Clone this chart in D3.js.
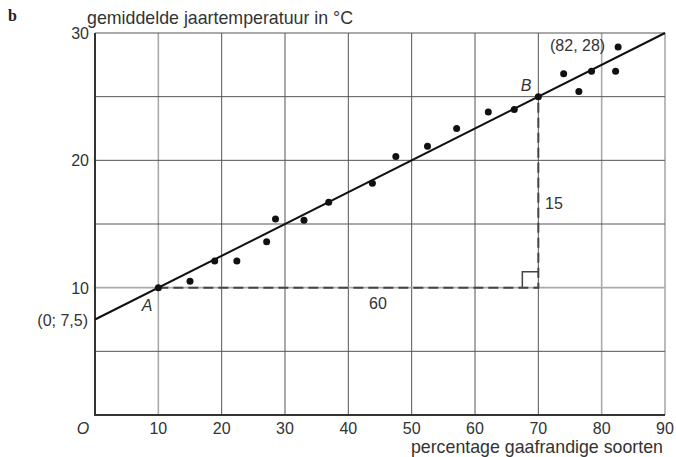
<!DOCTYPE html>
<html>
<head>
<meta charset="utf-8">
<script src="https://cdn.jsdelivr.net/npm/d3@7"></script>
<style>
  body { margin: 0; background: #fff; }
  text { font-family: "Liberation Sans", Arial, sans-serif; fill: #333; }
</style>
</head>
<body>
<script>
// data
var pctSmooth = [10, 15.0, 18.9, 22.4, 27.1, 28.5, 33.0, 36.9, 43.8, 47.5, 52.5, 57.1, 62.1, 66.2, 70, 74.0, 76.4, 78.4, 82.2, 82.6];
var meanTemp  = [10, 10.5, 12.1, 12.1, 13.6, 15.4, 15.3, 16.7, 18.2, 20.3, 21.1, 22.5, 23.8, 24.0, 25, 26.8, 25.4, 27.0, 27.0, 28.9];

var fitX = [0, 90];
var fitY = [7.5, 30];

// slope triangle A -> corner -> B
var triX = [10, 70, 70];
var triY = [10, 10, 25];

var xTicks = [10, 20, 30, 40, 50, 60, 70, 80, 90];
var yTicks = [10, 20, 30];
var yGrid = [5, 10, 15, 20, 25, 30];

var width = 676, height = 457;

var x = d3.scaleLinear().domain([0, 90]).range([95, 665]);
var y = d3.scaleLinear().domain([0, 30]).range([415, 33]);

var svg = d3.select("body").append("svg")
    .attr("width", width)
    .attr("height", height);

// grid
var light = function(v) { return v === 10 || v === 80 || v === 90; };

svg.append("g").selectAll("line")
    .data(xTicks)
    .enter().append("line")
    .attr("x1", d => x(d)).attr("x2", d => x(d))
    .attr("y1", y(0)).attr("y2", y(30))
    .attr("stroke", d => light(d) ? "#aaa" : "#555")
    .attr("stroke-width", d => light(d) ? 1.6 : 1);

svg.append("g").selectAll("line")
    .data(yGrid)
    .enter().append("line")
    .attr("x1", x(0)).attr("x2", x(90))
    .attr("y1", d => y(d)).attr("y2", d => y(d))
    .attr("stroke", d => d === 10 ? "#aaa" : "#555")
    .attr("stroke-width", d => d === 10 ? 1.6 : 1);

// axes
svg.append("path")
    .attr("d", "M" + x(0) + "," + y(30) + "V" + y(0) + "H" + x(90))
    .attr("fill", "none")
    .attr("stroke", "#333")
    .attr("stroke-width", 2);

// dashed triangle
var tri = d3.line().x(d => x(d[0])).y(d => y(d[1]));
svg.append("path")
    .attr("d", tri(d3.zip(triX, triY)))
    .attr("fill", "none")
    .attr("stroke", "#444")
    .attr("stroke-width", 2)
    .attr("stroke-dasharray", "10,5");

// right angle mark
var cx = x(triX[1]), cy = y(triY[1]);
svg.append("path")
    .attr("d", "M" + (cx - 16) + "," + cy + "V" + (cy - 16) + "H" + cx)
    .attr("fill", "none")
    .attr("stroke", "#444")
    .attr("stroke-width", 1.5);

// fitted line
svg.append("path")
    .attr("d", tri(d3.zip(fitX, fitY)))
    .attr("stroke", "#111")
    .attr("stroke-width", 2);

// points
svg.append("g").selectAll("circle")
    .data(d3.zip(pctSmooth, meanTemp))
    .enter().append("circle")
    .attr("cx", d => x(d[0]))
    .attr("cy", d => y(d[1]))
    .attr("r", 3.5)
    .attr("fill", "#111");

// tick labels
svg.append("g").selectAll("text")
    .data(xTicks)
    .enter().append("text")
    .attr("x", d => x(d))
    .attr("y", 434)
    .attr("text-anchor", "middle")
    .style("font-size", "16px")
    .text(d => d);

svg.append("g").selectAll("text")
    .data(yTicks)
    .enter().append("text")
    .attr("x", 89)
    .attr("y", d => y(d) + 6)
    .attr("text-anchor", "end")
    .style("font-size", "16px")
    .text(d => d);

// annotations
function label(tx, ty, s, opts) {
    opts = opts || {};
    var t = svg.append("text")
        .attr("x", tx).attr("y", ty)
        .attr("text-anchor", opts.anchor || "start")
        .style("font-size", (opts.size || 16) + "px")
        .text(s);
    if (opts.italic) t.style("font-style", "italic");
    return t;
}

svg.append("text")
    .attr("x", 8).attr("y", 21)
    .style("font-family", "'Liberation Serif', 'DejaVu Serif', serif")
    .style("font-weight", "bold")
    .style("font-size", "16px")
    .style("fill", "#222")
    .text("b");

label(87, 24, "gemiddelde jaartemperatuur in °C", { size: 17.8 });
label(663, 453, "percentage gaafrandige soorten", { anchor: "end", size: 17.8 });
label(88, 326, "(0; 7,5)", { anchor: "end" });
label(83, 434, "O", { anchor: "middle", italic: true });
label(147, 311, "A", { anchor: "middle", italic: true });
label(526, 91, "B", { anchor: "middle", italic: true });
label(550, 51, "(82, 28)");
label(545, 209, "15");
label(378, 309, "60", { anchor: "middle" });
</script>
</body>
</html>
